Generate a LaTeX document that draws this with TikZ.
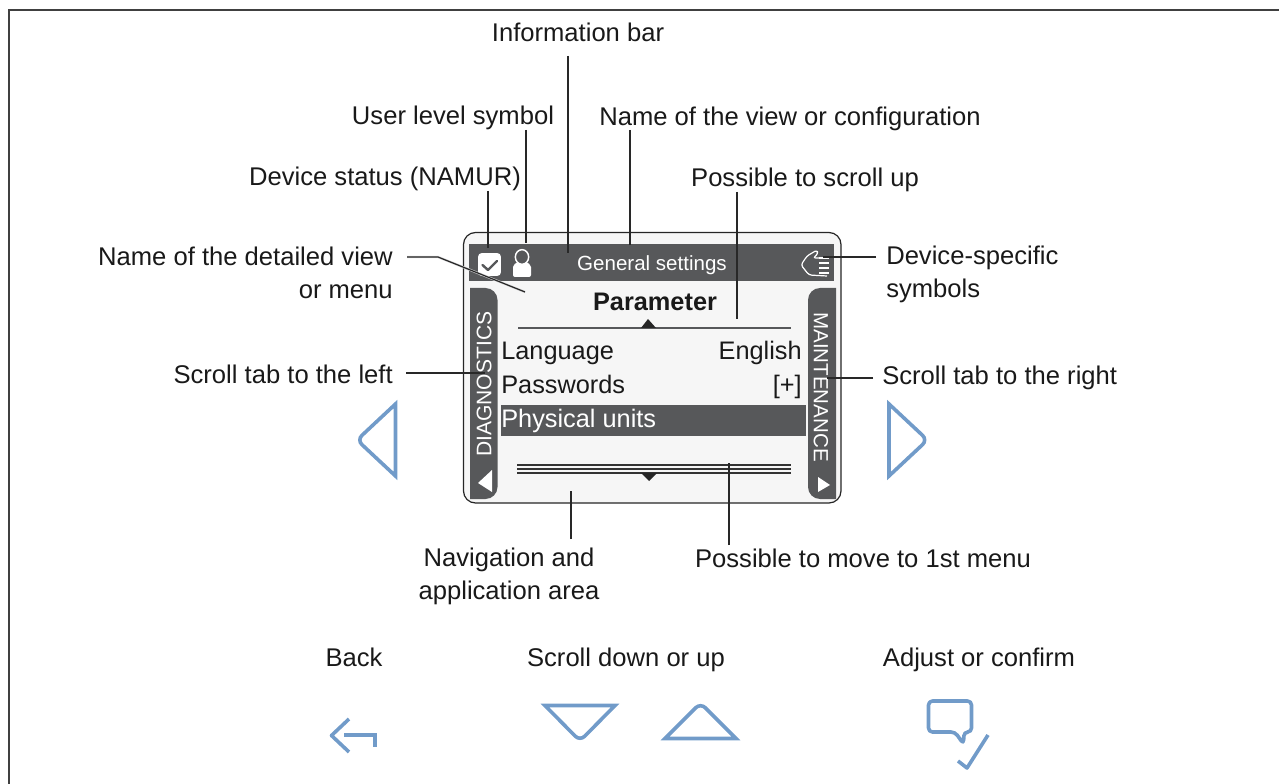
\documentclass[tikz,border=0pt]{standalone}
\usepackage{fontspec}
\setmainfont{Liberation Sans}
\usepackage{xcolor}
\usetikzlibrary{positioning,calc}
\definecolor{screenbg}{RGB}{246,246,246}
\definecolor{bardark}{RGB}{87,88,90}
\definecolor{keyblue}{RGB}{113,155,201}
\definecolor{leadgray}{RGB}{40,40,40}
\tikzset{
    lbl/.style={inner sep=0pt, font=\fontsize{19.2}{24.2}\selectfont, text=black!90},
    lead/.style={draw=leadgray, line width=0.9pt, preaction={draw=white!75!bardark, line width=1.7pt}},
    scr/.style={inner sep=0pt, font=\fontsize{19}{20}\selectfont, text=black!90},
    scrw/.style={inner sep=0pt, font=\fontsize{15.4}{16}\selectfont, text=white},
    key/.style={draw=keyblue, line width=2.7pt, fill=none},
}
\begin{document}
\begin{tikzpicture}[x=0.75pt,y=-0.75pt]
    \useasboundingbox (0,0) rectangle (1279,784);
    % Frame
    \draw[line width=1pt, black!75] (9,784) -- (9,10) -- (1279,10);

    % Screen
    \draw[fill=screenbg, draw=black!85, line width=0.9pt, rounded corners=9pt] (463.5,232.5) rectangle (841,503);
    \fill[bardark] (469,244) rectangle (834,281);
    \fill[bardark] (470,288) [rounded corners=9pt] -- (497.5,288) -- (497.5,499) [sharp corners] -- (470,499) -- cycle;
    \fill[bardark] (836,288) [rounded corners=9pt] -- (808,288) -- (808,499) [sharp corners] -- (836,499) -- cycle;
    \fill[bardark] (501,405) rectangle (806,436);

    % Information bar content
    \node[scrw] (viewname) at (652,265) {General settings};
    \node[fill=white, rounded corners=2.5pt, minimum width=17pt, minimum height=17pt, inner sep=0pt] (statusbox) at (489.5,264.5) {};
    \draw[bardark, line width=1.8pt, line cap=round, line join=round] (482.5,265) -- (488,270) -- (497,261);
    \fill[white, rounded corners=1.5pt] (513,277) -- (513,265) -- (518,262) -- (526,262) -- (531,265) -- (531,277) -- cycle;
    \draw[white, line width=1.1pt, fill=bardark] (522,257) ellipse (5pt and 5.5pt);
    % Hand symbol
    \draw[white, line width=0.9pt, line join=round, rounded corners=2pt]
        (827,276) -- (809,275) -- (801,265) -- (807,256) -- (817,250) -- (818,254) -- (813,258) -- (827,258);
    \foreach \y in {258,263,268,273} {
        \draw[white, line width=0.9pt] (819,\y) -- (829,\y);
    }

    % Title and menu
    \node[scr, font=\fontsize{19}{20}\bfseries\selectfont] (title) at (655,302) {Parameter};
    \draw[bardark, line width=1pt] (518,328) -- (791,328);
    \fill[black!85] (648,319) -- (656,328) -- (641,328) -- cycle;
    \node[scr, anchor=base west] (language) at (501,360) {Language};
    \node[scr, anchor=base east] (english) at (802,360) {English};
    \node[scr, anchor=base west] (passwords) at (501,393) {Passwords};
    \node[scr, anchor=base east] (plus) at (802,393) {[+]};
    \node[scr, anchor=base west, text=white] (physical) at (501,427) {Physical units};

    % Lower lines
    \draw[black!80, line width=0.8pt] (517,465) -- (791,465);
    \draw[black!80, line width=0.8pt] (517,469) -- (791,469);
    \draw[black!80, line width=0.8pt] (517,473) -- (791,473);
    \fill[black!85] (649,481) -- (641,473) -- (657,473) -- cycle;

    % Tabs
    \node[scrw, rotate=90, anchor=west, font=\fontsize{15.8}{16}\selectfont] (diag) at (484,457) {DIAGNOSTICS};
    \node[scrw, rotate=-90, anchor=west] (maint) at (821,312) {MAINTENANCE};
    \fill[white] (478,483) -- (492,470) -- (492,492) -- cycle;
    \fill[white] (818,477) -- (830,485) -- (818,492) -- cycle;

    % Labels
    \node[lbl] (infobar) at (578,32) {Information bar};
    \node[lbl] (userlevel) at (453,118) {User level symbol};
    \node[lbl] (viewlbl) at (790,119) {Name of the view or configuration};
    \node[lbl] (scrollup) at (805,180) {Possible to scroll up};
    \node[lbl] (status) at (385,179) {Device status (NAMUR)};
    \node[lbl, align=right, anchor=north east] (detail) at (393,247) {Name of the detailed view\\or menu};
    \node[lbl, align=left, anchor=north west] (specific) at (886,246) {Device-specific\\symbols};
    \node[lbl, anchor=east] (tableft) at (393,374) {Scroll tab to the left};
    \node[lbl, anchor=west] (tabright) at (882,378) {Scroll tab to the right};
    \node[lbl, align=center, anchor=north] (navarea) at (509,548) {Navigation and\\application area};
    \node[lbl] (firstmenu) at (863,558) {Possible to move to 1st menu};
    \node[lbl] (back) at (354,657) {Back};
    \node[lbl] (scrolldown) at (626,660) {Scroll down or up};
    \node[lbl] (confirm) at (979,660) {Adjust or confirm};

    % Leader lines
    \coordinate (p1) at (488,248);
    \coordinate (p2) at (526,243);
    \coordinate (p3) at (568,253);
    \coordinate (p4) at (630,245);
    \coordinate (p5) at (737,319);
    \coordinate (p6) at (525,292);
    \coordinate (p7) at (823,257);
    \coordinate (p8) at (485,373);
    \coordinate (p9) at (827,378);
    \coordinate (p10) at (571,491);
    \coordinate (p11) at (729,463);
    \coordinate (s1) at (488,191);
    \coordinate (s2) at (526,130);
    \coordinate (s3) at (568,56);
    \coordinate (s4) at (630,130);
    \coordinate (s5) at (737,192);
    \coordinate (s6) at (407,257);
    \coordinate (s7) at (876,257);
    \coordinate (s8) at (406,373);
    \coordinate (s9) at (873,378);
    \coordinate (s10) at (571,539);
    \coordinate (s11) at (729,545);
    \draw[lead] (s1) -- (p1);
    \draw[lead] (s2) -- (p2);
    \draw[lead] (s3) -- (p3);
    \draw[lead] (s4) -- (p4);
    \draw[lead] (s5) -- (p5);
    \draw[lead] (s6) -- (438,257) -- (p6);
    \draw[lead] (s7) -- (p7);
    \draw[lead] (s8) -- (p8);
    \draw[lead] (s9) -- (p9);
    \draw[lead] (s10) -- (p10);
    \draw[lead] (s11) -- (p11);

    % Scroll keys
    \draw[key] (395.5,404) [rounded corners=5pt] -- (357,440) [sharp corners] -- (395.5,476) -- cycle;
    \draw[key] (889,404) [rounded corners=5pt] -- (927.5,440) [sharp corners] -- (889,476) -- cycle;
    \draw[key, line join=round] (349,719) -- (331.5,735.5) -- (349,752);
    \draw[key] (344,735) -- (375,735) -- (375,747);
    \draw[key] (545,705.5) [rounded corners=5pt] -- (580,741) [sharp corners] -- (615,705.5) -- cycle;
    \draw[key] (665,738.5) [rounded corners=5pt] -- (700.5,703) [sharp corners] -- (736,738.5) -- cycle;
    \draw[key, rounded corners=3pt, line join=round] (955,732) -- (963.5,744) -- (964,732) -- (971.5,732) -- (971.5,701) -- (928.5,701) -- (928.5,732) -- cycle;
    \draw[key, line join=round] (958,761) -- (967,768) -- (988,735);
\end{tikzpicture}
\end{document}
